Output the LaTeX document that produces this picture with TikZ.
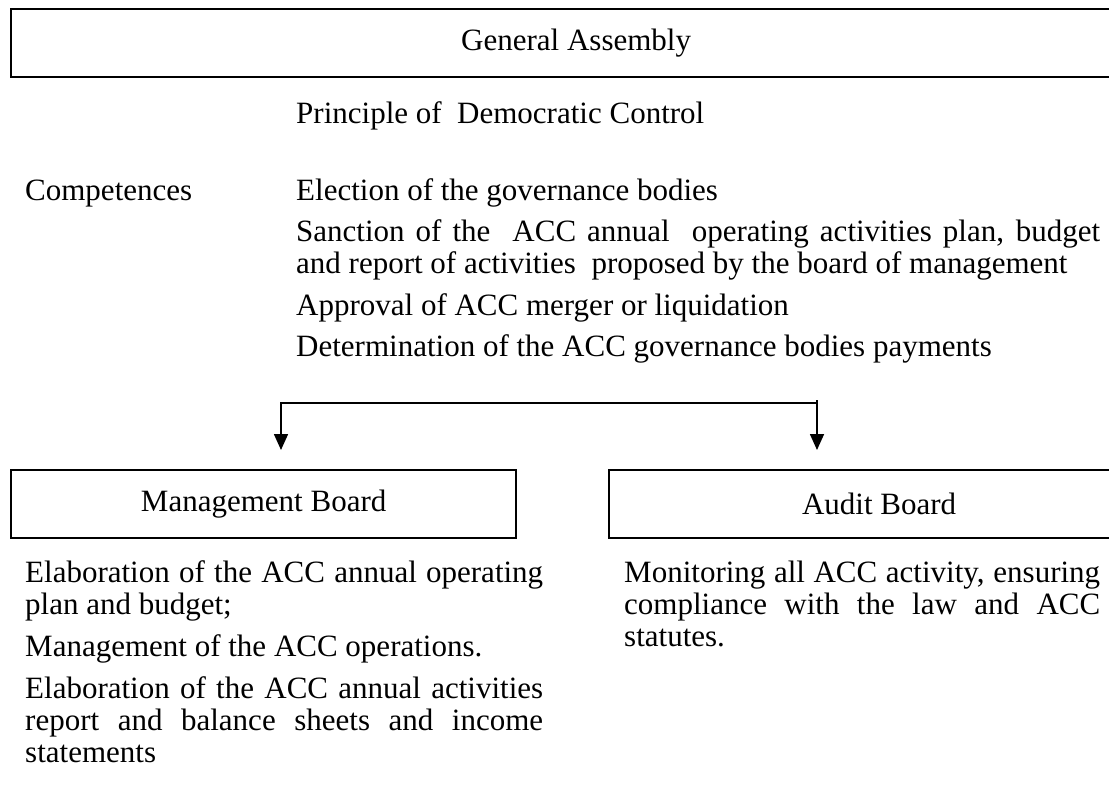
\documentclass[tikz,border=0pt]{standalone}
\usepackage{fontspec}
\setmainfont{Liberation Serif}
\usetikzlibrary{arrows.meta}
\newcommand{\paraopen}[1]{\setlength{\parskip}{#1}\setlength{\parindent}{0pt}\strut}

\begin{document}
\begin{tikzpicture}[x=1pt, y=-1pt,
        every node/.style={font=\fontsize{31}{32}\selectfont, inner sep=0pt},
        box/.style={draw, line width=2.3pt, minimum height=68pt, anchor=north west},
        para/.style={anchor=north west, align=justify},
        link/.style={line width=1.6pt, -{Triangle[width=14pt,length=16pt]}}]
        \useasboundingbox (0,0) rectangle (1109,795);
        \node[box, minimum width=1130pt] (ga) at (10,7.5) {General Assembly};
        \node[anchor=base west] (principle) at (296,123) {Principle of\ \ Democratic Control};
        \node[anchor=base west] (comp) at (25,200) {Competences};
        \node[para, text width=804pt] (gatasks) at (296,177.6) {\paraopen{9.5pt}Election of the governance bodies\par
            Sanction of the\ \ ACC annual\ \ operating activities plan, budget\linebreak and report of activities\ \ proposed by the board of management\par
            Approval of ACC merger or liquidation\par
            Determination of the ACC governance bodies payments};
        \coordinate (forkl) at (281,403);
        \coordinate (forkr) at (817,403);
        \coordinate (topr) at (817,400);
        \coordinate (tipl) at (281,450);
        \coordinate (tipr) at (817,450);
        \draw[link] (forkr) -- (forkl) -- (tipl);
        \draw[link] (topr) -- (tipr);
        \node[box, minimum width=505pt] (mb) at (10,469) {Management Board};
        \node[box, minimum width=540pt] (ab) at (608,469) {Audit Board};
        \node[para, text width=518pt] (mbtasks) at (25,559.6) {\paraopen{10pt}Elaboration of the ACC annual operating\linebreak plan and budget;\par
            Management of the ACC operations.\par
            Elaboration of the ACC annual activities\linebreak report and balance sheets and income\linebreak statements};
        \node[para, text width=476pt] (abtasks) at (624,559.6) {\paraopen{10pt}Monitoring all ACC activity, ensuring\linebreak compliance with the law and ACC\linebreak statutes.};
    \end{tikzpicture}
\end{document}
